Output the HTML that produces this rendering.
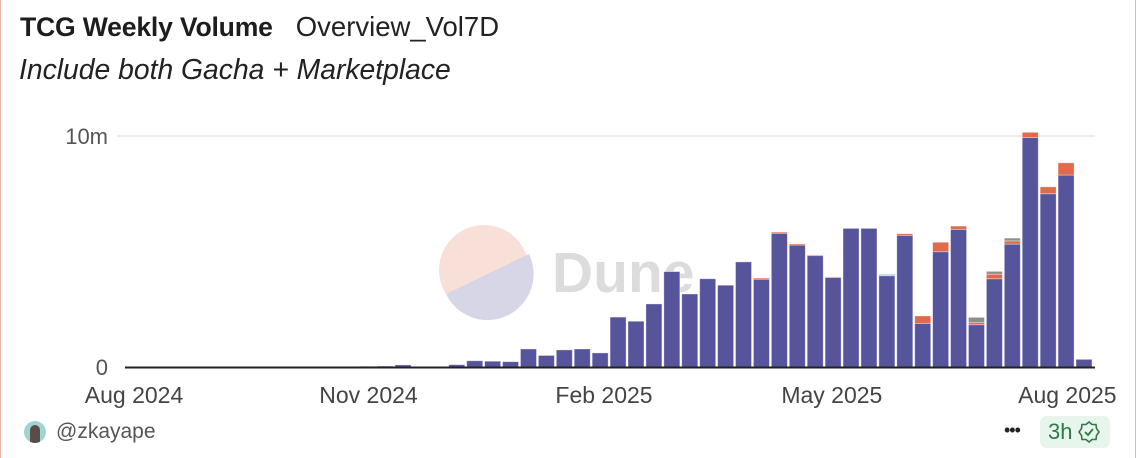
<!DOCTYPE html>
<html><head><meta charset="utf-8"><style>
html,body{margin:0;padding:0;background:#fff;width:1136px;height:458px;overflow:hidden}
body{font-family:"Liberation Sans",sans-serif;position:relative}
.card{position:absolute;left:0;top:0;width:1134px;height:458px;border-left:1.5px solid #eab3a6;border-right:1.5px solid #eab3a6}
.title{position:absolute;left:20px;top:11px;font-size:26.6px;color:#1d1d1f;white-space:nowrap}
.title b{font-weight:bold;letter-spacing:-0.2px}
.title span{margin-left:23px;color:#222;font-size:27.5px}
.sub{position:absolute;left:19px;top:53px;font-size:28.3px;font-style:italic;color:#222;white-space:nowrap}
.foot{position:absolute;left:24px;top:420px;font-size:21px;color:#555;display:flex;align-items:center}
.av{width:22px;height:22px;border-radius:50%;background:#9fd3d6;margin-right:10px;position:relative;overflow:hidden}
.av:after{content:"";position:absolute;left:6px;top:4px;width:10px;height:18px;background:#5a4d46;border-radius:5px 5px 0 0}
.dots{position:absolute;left:1004px;top:420px;font-size:18px;color:#222;letter-spacing:-1px}
.badge{position:absolute;left:1040px;top:416px;width:70px;height:32px;border-radius:7px;background:#e8f5ec;color:#2d7a45;font-size:22px;display:flex;align-items:center;padding-left:8px;box-sizing:border-box}
</style></head><body>
<div class="card"></div>
<div class="title"><b>TCG Weekly Volume</b><span>Overview_Vol7D</span></div>
<div class="sub">Include both Gacha + Marketplace</div>
<svg id="chart" width="1136" height="458" style="position:absolute;left:0;top:0">
 <g>
  <circle cx="484" cy="270" r="45" fill="#f8e0d8"/>
  <path d="M 446 294 A 45 45 0 0 0 529 254 Z" fill="#d6d6e6"/>
  <text x="552" y="292" font-size="57" font-weight="bold" fill="#dcdcdc" font-family="Liberation Sans, sans-serif">Dune</text>
 </g>
</svg>
<div class="foot"><div class="av"></div>@zkayape</div>
<div class="dots">•••</div>
<div class="badge">3h <svg width="22" height="22" viewBox="0 0 22 22" style="margin-left:6px"><path d="M11 1 L14 3.5 L18 3.5 L18.5 7.5 L21 11 L18.5 14.5 L18 18.5 L14 18.5 L11 21 L8 18.5 L4 18.5 L3.5 14.5 L1 11 L3.5 7.5 L4 3.5 L8 3.5 Z" fill="none" stroke="#2d7a45" stroke-width="1.6"/><path d="M7 11 L10 14 L15 8" fill="none" stroke="#2d7a45" stroke-width="1.8"/></svg></div>
<script>
// week start dates (Mondays)
const weeks = ["2024-10-28","2024-11-04","2024-11-11","2024-11-18","2024-11-25","2024-12-02","2024-12-09","2024-12-16","2024-12-23","2024-12-30","2025-01-06","2025-01-13","2025-01-20","2025-01-27","2025-02-03","2025-02-10","2025-02-17","2025-02-24","2025-03-03","2025-03-10","2025-03-17","2025-03-24","2025-03-31","2025-04-07","2025-04-14","2025-04-21","2025-04-28","2025-05-05","2025-05-12","2025-05-19","2025-05-26","2025-06-02","2025-06-09","2025-06-16","2025-06-23","2025-06-30","2025-07-07","2025-07-14","2025-07-21","2025-07-28","2025-08-04"];
// volumes in millions
const purple = [0.03,0.04,0.09,0.01,0.01,0.10,0.27,0.25,0.23,0.78,0.50,0.74,0.78,0.61,2.16,1.98,2.73,4.13,3.16,3.82,3.54,4.55,3.80,5.79,5.28,4.82,3.87,6.00,6.00,3.95,5.70,1.89,4.99,5.96,1.83,3.82,5.32,9.93,7.50,8.31,0.33];
const orange = [0,0,0,0,0,0,0,0,0,0,0,0,0,0,0,0,0,0,0,0,0,0,0.05,0.05,0.05,0.03,0.03,0,0,0.03,0.07,0.32,0.41,0.14,0.09,0.20,0.14,0.23,0.30,0.53,0];
const gray = [0,0,0,0,0,0,0,0,0,0,0,0,0,0,0,0,0,0,0,0,0,0,0,0,0,0,0,0,0,0.03,0,0,0,0,0.23,0.12,0.12,0,0,0,0];
const yTicks = [0,10];
const yTickLabels = ["0","10m"];
const xTicks = ["2024-08-01","2024-11-01","2025-02-01","2025-05-01","2025-08-01"];
const xTickLabels = ["Aug 2024","Nov 2024","Feb 2025","May 2025","Aug 2025"];

const NS="http://www.w3.org/2000/svg";
const svg=document.getElementById('chart');
const DAY=86400000, PPD=17.92/7;
const anchor=Date.parse("2025-08-04")+3.5*DAY;
function x(d){return 1084+(Date.parse(d)-anchor)/DAY*PPD;}
function xc(d){return x(d)+3.5*PPD;}
function y(v){return 367-v*23.1;}
function mk(t,a){const e=document.createElementNS(NS,t);for(const k in a)e.setAttribute(k,a[k]);svg.appendChild(e);return e;}

yTicks.forEach((v,i)=>{
  if(v>0){const g=mk('line',{x1:117,x2:1095,y1:y(v),y2:y(v),stroke:'#ebebf0','stroke-width':2});
  
  }
  const t=mk('text',{x:108,y:y(v)+8,'text-anchor':'end','font-size':22,fill:'#555','font-family':'Liberation Sans, sans-serif'});
  t.textContent=yTickLabels[i];
  
  
});
const bw=16;
weeks.forEach((w,i)=>{
  const cx=xc(w);
  let base=0;
  [[purple,'#56549a'],[orange,'#e2694a'],[gray,'#8e8e8e']].forEach(([arr,c],k)=>{
    const v=arr[i]; if(!v) return;
    const r=mk('rect',{x:cx-bw/2,y:y(base+v),width:bw,height:y(base)-y(base+v),fill:c,stroke:'rgba(255,255,255,0.45)','stroke-width':0.8});
    
    
    base+=v;
  });
});
const ax=mk('line',{x1:125,x2:1095,y1:367.5,y2:367.5,stroke:'#222','stroke-width':2});


xTicks.forEach((d,i)=>{
  let px=Math.max(x(d),134);
  const t=mk('text',{x:px,y:403,'text-anchor':'middle','font-size':23,fill:'#444','font-family':'Liberation Sans, sans-serif'});
  t.textContent=xTickLabels[i];
  
  
});
</script>
</body></html>
